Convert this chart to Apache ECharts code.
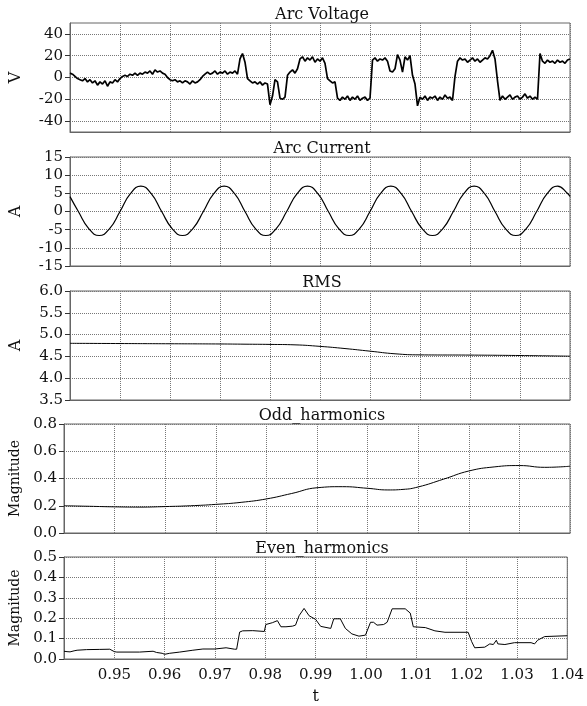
<!DOCTYPE html>
<html>
<head>
<meta charset="UTF-8">
<title>arc signals</title>
<script type="text/javascript" src="https://cdn.jsdelivr.net/npm/echarts@6/dist/echarts.min.js"></script>
<style>
  html, body { margin: 0; padding: 0; background: #fff; }
  #container { width: 587px; height: 706px; }
</style>
</head>
<body>
<div id="container"></div>
<script type="text/javascript">
// x ticks (0.94 is the left border, no label there)
var tTicks = [0.95, 0.96, 0.97, 0.98, 0.99, 1.00, 1.01, 1.02, 1.03, 1.04];
var voltTicks = [-40, -20, 0, 20, 40];

// arc voltage, sampled every 0.0005 s from t = 0.94
var voltStart = 0.94, voltStep = 0.0005;
var voltV = [
  4, 3, 1, -1, -2, -3, -1, -4, -2, -5, -3, -7, -4, -6, -3, -8, -4, -5, -2, -4,
  -1, 1, 2, 1, 3, 2, 4, 2, 4, 3, 5, 4, 6, 3, 7, 5, 6, 4, 3, 0,
  -2, -3, -2, -4, -3, -5, -3, -4, -6, -3, -5, -4, -2,
  1, 3, 5, 3, 4, 6, 3, 5, 4, 6, 3, 5, 4, 6, 3,
  17, 22, 14,
  -1, -3, -5, -4, -6, -4, -7, -5, -6,
  -25, -17, -2, -4, -19, -20, -18, 2, 5, 7, 4, 8,
  17, 19, 15, 18, 16, 19, 14, 17, 15, 18, 13,
  -1, -3, -5, -4, -19, -21, -18, -20, -17, -21, -18, -20, -17, -21, -19, -18, -21,
  -19, 16, 18, 15, 17, 16, 18, 15, 6, 5, 8, 21, 16, 5, 19, 16, 20,
  2, -6, -26, -18, -20, -17, -21, -18, -19, -17, -21, -18, -20, -16, -19, -18, -21,
  1, 15, 18, 16, 17, 14, 16, 18, 15, 17, 14, 16, 18, 17, 20, 25, 17,
  -3, -21, -17, -20, -18, -16, -20, -18, -17, -20, -18, -15, -19, -17, -20, -18, -20,
  22, 15, 13, 16, 14, 15, 13, 16, 14, 15, 13, 16, 17
];

// arc current
var curT = [0.94, 0.94167, 0.94375, 0.94583, 0.94792, 0.95, 0.95208, 0.95417, 0.95625,
  0.95833, 0.96042, 0.9625, 0.96458, 0.96667, 0.96875, 0.97083, 0.97292,
  0.975, 0.97708, 0.97917, 0.98125, 0.98333, 0.98542, 0.9875, 0.98958,
  0.99167, 0.99375, 0.99583, 0.99792, 1.0, 1.00208, 1.00417, 1.00625,
  1.00833, 1.01042, 1.0125, 1.01458, 1.01667, 1.01875, 1.02083, 1.02292,
  1.025, 1.02708, 1.02917, 1.03125, 1.03333, 1.03542, 1.0375, 1.03958, 1.04];
var curV = [4.1, 0, -4.7, -6.6, -4.7, 0, 4.9, 7.0, 4.9,
  0, -4.7, -6.6, -4.7, 0, 4.9, 7.0, 4.9,
  0, -4.7, -6.6, -4.7, 0, 4.9, 7.0, 4.9,
  0, -4.7, -6.6, -4.7, 0, 4.9, 7.0, 4.9,
  0, -4.7, -6.6, -4.7, 0, 4.9, 7.0, 4.9,
  0, -4.7, -6.6, -4.7, 0, 4.9, 7.0, 4.9, 4.1];

// rms
var rmsT = [0.94, 0.95, 0.96, 0.97, 0.975, 0.98, 0.985, 0.99, 0.995, 1.00, 1.005, 1.01, 1.02, 1.03, 1.04];
var rmsV = [4.80, 4.795, 4.79, 4.785, 4.78, 4.775, 4.765, 4.73, 4.68, 4.62, 4.56, 4.535, 4.53, 4.52, 4.505];

// odd harmonics
var oddT = [0.94, 0.945, 0.95, 0.955, 0.96, 0.965, 0.97, 0.975, 0.98, 0.985, 0.99, 0.995,
  1.00, 1.004, 1.007, 1.01, 1.015, 1.02, 1.025, 1.03, 1.035, 1.04];
var oddV = [0.200, 0.196, 0.192, 0.190, 0.194, 0.200, 0.210, 0.225, 0.250, 0.290, 0.332, 0.340,
  0.328, 0.316, 0.320, 0.338, 0.395, 0.455, 0.485, 0.495, 0.482, 0.490];

// even harmonics
var evenT = [0.9400, 0.9406, 0.9412, 0.9420, 0.9426, 0.9445, 0.9470, 0.9491, 0.9500, 0.9505,
  0.9550, 0.9577, 0.9584, 0.9595, 0.9600, 0.9610, 0.9630, 0.9656, 0.9676, 0.9700,
  0.9722, 0.9739, 0.9743, 0.9749, 0.9755, 0.9775, 0.9798, 0.9801, 0.9814, 0.9824,
  0.9831, 0.9841, 0.9854, 0.9860, 0.9867, 0.9877, 0.9887, 0.9900, 0.9910, 0.9930,
  0.9936, 0.9949, 0.9959, 0.9972, 0.9986, 0.9999, 1.0009, 1.0015, 1.0022, 1.0035,
  1.0042, 1.0052, 1.0078, 1.0088, 1.0094, 1.0118, 1.0137, 1.0157, 1.0203, 1.0210,
  1.0216, 1.0236, 1.0246, 1.0253, 1.0259, 1.0262, 1.0276, 1.0295, 1.0328, 1.0335,
  1.0341, 1.0355, 1.0400];
var evenV = [0.038, 0.036, 0.035, 0.040, 0.043, 0.046, 0.047, 0.048, 0.036, 0.034,
  0.034, 0.038, 0.032, 0.028, 0.023, 0.028, 0.034, 0.043, 0.049, 0.049,
  0.055, 0.048, 0.048, 0.132, 0.138, 0.139, 0.135, 0.169, 0.178, 0.188,
  0.158, 0.158, 0.161, 0.166, 0.212, 0.248, 0.212, 0.194, 0.160, 0.150,
  0.197, 0.197, 0.150, 0.123, 0.112, 0.117, 0.180, 0.180, 0.166, 0.169,
  0.180, 0.246, 0.246, 0.225, 0.158, 0.154, 0.138, 0.131, 0.131, 0.085,
  0.055, 0.058, 0.074, 0.071, 0.092, 0.074, 0.071, 0.080, 0.080, 0.074,
  0.092, 0.110, 0.114];

function pairs(ts, vs) {
  var out = [];
  for (var i = 0; i < vs.length; i++) out.push([ts[i], vs[i]]);
  return out;
}
var voltT = voltV.map(function (v, i) { return voltStart + i * voltStep; });

var FONT = 'DejaVu Serif';
var INK = '#111';
var panels = [
  {title: 'Arc Voltage', name: 'V', min: -50, max: 50, custom: voltTicks, dec: 0, t: voltT, v: voltV, smooth: false, lw: 1.7},
  {title: 'Arc Current', name: 'A', min: -15, max: 15, interval: 5, dec: 0, t: curT, v: curV, smooth: 0.5, lw: 1.2},
  {title: 'RMS', name: 'A', min: 3.5, max: 6.0, interval: 0.5, dec: 1, t: rmsT, v: rmsV, smooth: 0.5, lw: 1},
  {title: 'Odd_harmonics', name: 'Magnitude', min: 0, max: 0.8, interval: 0.2, dec: 1, t: oddT, v: oddV, smooth: 0.5, lw: 1},
  {title: 'Even_harmonics', name: 'Magnitude', min: 0, max: 0.5, interval: 0.1, dec: 1, t: evenT, v: evenV, smooth: false, lw: 1}
];
var tops = [23, 157, 291, 424, 557];
var plotLeft = 64, plotWidth = 506, plotHeight = 109;

var grid = [], xAxis = [], yAxis = [], series = [], title = [];
panels.forEach(function (p, k) {
  var last = k === panels.length - 1;
  grid.push({left: plotLeft, top: tops[k], width: plotWidth, height: plotHeight,
    show: true, borderColor: '#666', borderWidth: 1});
  title.push({text: p.title, left: plotLeft + plotWidth / 2, top: tops[k] - 21, textAlign: 'center',
    textStyle: {fontFamily: FONT, fontSize: 16, fontWeight: 'normal', color: INK}});
  xAxis.push({
    type: 'value', gridIndex: k, min: 0.94, max: 1.04, interval: 0.01,
    name: last ? 't' : '', nameLocation: 'middle', nameGap: 30,
    nameTextStyle: {fontFamily: FONT, fontSize: 16, color: INK},
    axisLine: {show: true, onZero: false, lineStyle: {color: '#666'}},
    axisTick: {show: false},
    axisLabel: {show: last, showMinLabel: false, margin: 9, fontFamily: FONT, fontSize: 15, color: INK,
      formatter: function (v) { return v.toFixed(2); }},
    splitLine: {show: true, lineStyle: {type: [1, 1], color: '#777', width: 1}}
  });
  var ya = {
    type: 'value', gridIndex: k, min: p.min, max: p.max,
    name: p.name, nameLocation: 'middle', nameGap: p.name.length > 1 ? 40 : 46,
    nameTextStyle: {fontFamily: FONT, fontSize: p.name.length > 1 ? 14 : 16, color: INK},
    axisLine: {show: true, lineStyle: {color: '#666'}},
    axisTick: {show: true, inside: false, length: 5, lineStyle: {color: '#333'}},
    axisLabel: {margin: 7, fontFamily: FONT, fontSize: 15, color: INK,
      formatter: (function (d) { return function (v) { return v.toFixed(d); }; })(p.dec)},
    splitLine: {show: true, lineStyle: {type: [1, 1], color: '#777', width: 1}}
  };
  if (p.custom) {
    ya.axisTick.customValues = p.custom;
    ya.axisLabel.customValues = p.custom;
  } else {
    ya.interval = p.interval;
  }
  yAxis.push(ya);
  series.push({
    type: 'line', xAxisIndex: k, yAxisIndex: k, data: pairs(p.t, p.v),
    showSymbol: false, smooth: p.smooth, clip: true,
    lineStyle: {color: '#000', width: p.lw}
  });
});

var chart = echarts.init(document.getElementById('container'), null, {renderer: 'canvas'});
chart.setOption({
  animation: false,
  backgroundColor: '#fff',
  title: title,
  grid: grid,
  xAxis: xAxis,
  yAxis: yAxis,
  series: series
});
</script>
</body>
</html>
